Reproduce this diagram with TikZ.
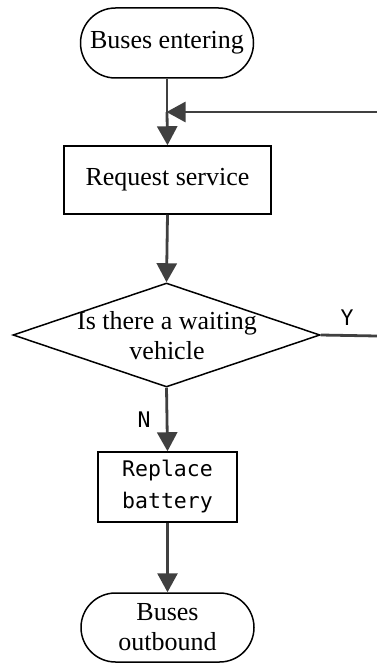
\documentclass[tikz,border=0pt]{standalone}
\usepackage{fontspec}
\setmainfont{Liberation Serif}
\newfontfamily\monof{DejaVu Sans Mono}
\usetikzlibrary{shapes.geometric,arrows.meta}
\definecolor{lc}{HTML}{404040}
\tikzset{
  term/.style={draw=black,line width=1.5pt,rounded rectangle,minimum width=173pt,minimum height=70pt,inner sep=0pt,align=center,font=\fontsize{26}{30}\selectfont},
  proc/.style={draw=black,line width=1.5pt,rectangle,inner sep=0pt,align=center},
  dec/.style={draw=black,line width=1.5pt,diamond,minimum width=307pt,minimum height=104pt,aspect=2.95,inner sep=0pt,align=center,font=\fontsize{26}{30}\selectfont},
  conn/.style={draw=lc,line width=2.8pt,-{Triangle[length=19pt,width=20pt]}},
  plain/.style={draw=lc,line width=2.8pt},
  lab/.style={font=\monof\fontsize{21.5}{32}\selectfont,inner sep=0pt}
}
\usetikzlibrary{shapes.misc}
\begin{document}
\begin{tikzpicture}[x=1pt,y=-1pt]
\useasboundingbox (0,0) rectangle (376,663);
\node[term] (start) at (167,43) {Buses entering};
\node[proc,minimum width=207pt,minimum height=68pt,font=\fontsize{26}{30}\selectfont] (req) at (167.5,180) {Request service};
\node[dec] (d) at (166.5,335) {};
\node[font=\fontsize{26}{30}\selectfont,align=center] (dt) at (167,336) {Is there a waiting\\vehicle};
\node[proc,minimum width=139pt,minimum height=70pt,font=\monof\fontsize{21.5}{32}\selectfont] (rep) at (167.5,487) {Replace\\battery};
\node[term,minimum height=69pt] (end) at (167.5,627.5) {Buses\\outbound};
\coordinate (merge) at (167,112);
\coordinate (e1) at (377,112);
\coordinate (e2) at (377,336);
\draw[plain] (start.south) -- (merge);
\draw[conn] (merge) -- (req.north);
\draw[conn,shorten >=-0.5pt] (e1) -- (merge);
\draw[conn] (req.south) -- (d.north);
\draw[plain] (d.east) -- (e2);
\draw[conn] (d.south) -- (rep.north);
\draw[conn] (rep.south) -- (end.north);
\node[lab] (y) at (347,318) {Y};
\node[lab] (n) at (144,420) {N};
\end{tikzpicture}
\end{document}
